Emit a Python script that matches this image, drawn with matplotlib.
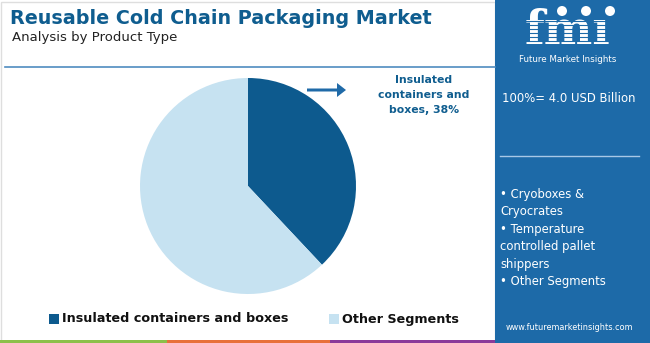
import matplotlib
matplotlib.use("Agg")
import matplotlib.pyplot as plt
from matplotlib.patches import Rectangle, FancyArrow, Ellipse

categories = ["Insulated containers and boxes", "Other Segments"]
shares = [38, 62]
colors = ["#0d5a8e", "#c6e2f1"]
total_label = "100%= 4.0 USD Billion"
panel_items = ["• Cryoboxes &\nCryocrates", "• Temperature\ncontrolled pallet\nshippers", "• Other Segments"]

W, H = 650, 343
fig = plt.figure(figsize=(W / 100, H / 100), dpi=100)
fig.patch.set_facecolor("white")

def fx(x):
    return x / W

def fy(y):
    return 1 - y / H

FONT = "DejaVu Sans"
PANEL = "#1d6aa8"

# border of left area
fig.add_artist(Rectangle((fx(1), fy(341)), fx(494), 339 / H, transform=fig.transFigure,
                         facecolor="none", edgecolor="#dedede", lw=1))

# right blue panel
fig.add_artist(Rectangle((fx(495), 0), fx(155), 1, transform=fig.transFigure,
                         facecolor=PANEL, edgecolor="none"))

# bottom coloured strip
for x0, x1, c in [(0, 167, "#8cc04a"), (167, 330, "#e8703a"), (330, 495, "#8b3a9a")]:
    fig.add_artist(Rectangle((fx(x0), 0), fx(x1 - x0), 3 / H, transform=fig.transFigure,
                             facecolor=c, edgecolor="none"))

# title
fig.text(fx(10), fy(18), "Reusable Cold Chain Packaging Market", fontsize=13.8,
         fontweight="bold", color="#0f5d8f", family=FONT, va="center", ha="left")
fig.text(fx(12), fy(37), "Analysis by Product Type", fontsize=9.5,
         color="#222222", family=FONT, va="center", ha="left")
fig.add_artist(plt.Line2D([fx(5), fx(495)], [fy(67), fy(67)], transform=fig.transFigure,
                          color="#4f8cc0", lw=1.2))

# pie
cx, cy, r = 248, 186, 108
ax = fig.add_axes([fx(cx - r), fy(cy + r), 2 * r / W, 2 * r / H])
ax.pie(shares, colors=colors, startangle=90, counterclock=False, radius=1,
       wedgeprops=dict(linewidth=0))
ax.set_xlim(-1, 1)
ax.set_ylim(-1, 1)
ax.set_aspect("auto")
ax.axis("off")

# annotation
fig.add_artist(FancyArrow(fx(307), fy(90), fx(30), 0, width=3 / H, head_width=14 / H,
                          head_length=fx(9), length_includes_head=False,
                          transform=fig.transFigure, color="#1f6aa8", lw=0))
fig.text(fx(424), fy(95), f"Insulated\ncontainers and\nboxes, {shares[0]}%", fontsize=7.8,
         fontweight="bold", color="#0f5d8f", family=FONT, ha="center", va="center",
         linespacing=1.6)

# legend
lx = [(49, 0), (329, 1)]
for x, i in lx:
    fig.add_artist(Rectangle((fx(x), fy(324)), fx(10), 10 / H, transform=fig.transFigure,
                             facecolor=colors[i], edgecolor="none"))
    fig.text(fx(x + 13), fy(319), categories[i], fontsize=9.2, fontweight="bold",
             color="#111111", family=FONT, ha="left", va="center")

# logo
fig.text(fx(568), fy(44), "fmı", fontsize=33, fontweight="bold", color="white",
         family="DejaVu Serif", ha="center", va="baseline")
for yy in range(21, 46, 4):
    fig.add_artist(plt.Line2D([fx(514), fx(624)], [fy(yy), fy(yy)], transform=fig.transFigure,
                              color=PANEL, lw=0.8, zorder=5))
for xx in (562, 586, 610):
    fig.add_artist(Ellipse((fx(xx), fy(11)), 10 / W, 10 / H, transform=fig.transFigure,
                           facecolor="white", edgecolor="none", zorder=5))
fig.text(fx(568), fy(60), "Future Market Insights", fontsize=6.3, color="white",
         family=FONT, ha="center", va="center")

fig.text(fx(569), fy(98), total_label, fontsize=8.4, color="white", family=FONT,
         ha="center", va="center")
fig.add_artist(plt.Line2D([fx(500), fx(639)], [fy(156), fy(156)], transform=fig.transFigure,
                          color="#a8c8e6", lw=1))
fig.text(fx(500), fy(188), "\n".join(panel_items), fontsize=8.4, color="white", family=FONT,
         ha="left", va="top", linespacing=1.45)
fig.text(fx(569), fy(327), "www.futuremarketinsights.com", fontsize=5.9, color="white",
         family=FONT, ha="center", va="center")

fig.savefig("out.png", dpi=100, facecolor="white")
